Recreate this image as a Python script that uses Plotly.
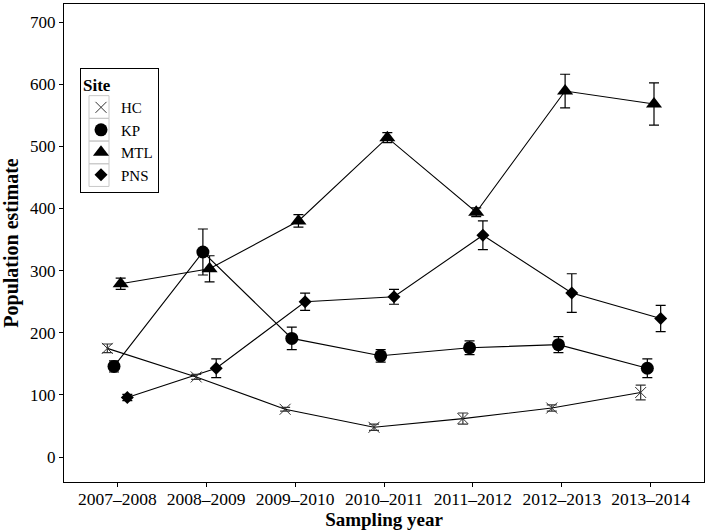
import plotly.graph_objects as go

years = ["2007–2008", "2008–2009", "2009–2010", "2010–2011", "2011–2012", "2012–2013", "2013–2014"]
sites = ["HC", "KP", "MTL", "PNS"]

hc = [175, 129, 77, 48, 62, 79, 104]
hc_err = [7, 4, 3, 5, 9, 5, 12]
kp = [146, 330, 191, 163, 176, 181, 143]
kp_err = [9, 37, 18, 10, 11, 13, 15]
mtl = [279, 303, 380, 514, 394, 589, 568]
mtl_err = [9, 21, 10, 8, 7, 27, 34]
pns = [96, 143, 250, 258, 357, 264, 223]
pns_err = [5, 15, 14, 12, 23, 31, 21]

series = {"HC": (hc, hc_err), "KP": (kp, kp_err), "MTL": (mtl, mtl_err), "PNS": (pns, pns_err)}
dodge = 0.3
styles = {
    "HC": dict(symbol="x-thin-open", size=11, color="#333333", line=dict(width=1, color="#333333")),
    "KP": dict(symbol="circle", size=13, color="black"),
    "MTL": dict(symbol="triangle-up", size=14, color="black"),
    "PNS": dict(symbol="diamond", size=10, color="black"),
}

FONT = "Liberation Serif"
W, H = 709, 532
ML, MR, MT, MB = 64, 5, 4, 50
PW, PH = W - ML - MR, H - MT - MB

fig = go.Figure()
n = len(sites)
for i, s in enumerate(sites):
    vals, errs = series[s]
    off = (i - (n - 1) / 2) / n * dodge
    xs = [k + off for k in range(len(years))]
    fig.add_trace(go.Scatter(x=xs, y=vals, mode="lines", line=dict(color="black", width=1.1),
                             showlegend=False, hoverinfo="skip"))
for i, s in enumerate(sites):
    vals, errs = series[s]
    off = (i - (n - 1) / 2) / n * dodge
    xs = [k + off for k in range(len(years))]
    col = "#333333" if s == "HC" else "black"
    fig.add_trace(go.Scatter(x=xs, y=vals, mode="markers", name=s, marker=styles[s],
                             error_y=dict(type="data", array=errs, visible=True, color=col,
                                          thickness=1.2, width=5)))

# legend key boxes (grey squares behind legend symbols), pixel -> paper
def px(x):
    return (x - ML) / PW
def py(y):
    return (H - MB - y) / PH

row_h = 22.7
first_row = 107
shapes = []
for k in range(len(sites)):
    cy = first_row + k * row_h
    shapes.append(dict(type="rect", xref="paper", yref="paper",
                       x0=px(89), x1=px(109), y0=py(cy - row_h / 2), y1=py(cy + row_h / 2),
                       line=dict(color="#c8c8c8", width=1), fillcolor="rgba(0,0,0,0)", layer="above"))

fig.update_layout(
    width=W, height=H,
    margin=dict(l=ML, r=MR, t=MT, b=MB),
    paper_bgcolor="white", plot_bgcolor="white",
    font=dict(family=FONT, size=16, color="black"),
    shapes=shapes,
    legend=dict(title=dict(text="<b>Site</b>", font=dict(family=FONT, size=17)),
                x=px(80), y=py(68), xanchor="left", yanchor="top",
                bordercolor="black", borderwidth=1, bgcolor="rgba(0,0,0,0)",
                font=dict(family=FONT, size=15), tracegroupgap=0, itemwidth=30),
)
fig.update_xaxes(range=[-0.6, 6.6], tickmode="array", tickvals=list(range(len(years))), ticktext=years,
                 showline=True, linecolor="black", linewidth=1, mirror=True,
                 ticks="outside", ticklen=4, tickcolor="black", showgrid=False, zeroline=False,
                 ticklabelstandoff=-3,
                 title=dict(text="<b>Sampling year</b>", font=dict(family=FONT, size=19), standoff=0),
                 tickfont=dict(family=FONT, size=17.5))
fig.update_yaxes(range=[-40, 729], tickmode="array", tickvals=[0, 100, 200, 300, 400, 500, 600, 700],
                 showline=True, linecolor="black", linewidth=1, mirror=True,
                 ticks="outside", ticklen=4, tickcolor="black", showgrid=False, zeroline=False,
                 title=dict(text="<b>Population estimate</b>", font=dict(family=FONT, size=20), standoff=8),
                 tickfont=dict(family=FONT, size=17))

fig.write_html("out.html", config={"displayModeBar": False},
               post_script="document.body.style.margin='0';")
